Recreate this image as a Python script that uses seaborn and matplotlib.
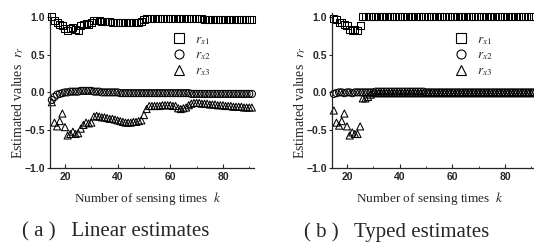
import numpy as np
import pandas as pd
import matplotlib
matplotlib.use("Agg")
import matplotlib.pyplot as plt
from matplotlib.lines import Line2D
import seaborn as sns

# sensing times k = 15 .. 91
k_values = list(range(15, 92))

lin_rx1 = [1.00, 0.95, 0.92, 0.90, 0.88, 0.85, 0.82, 0.84, 0.86, 0.83,
           0.82, 0.88, 0.90, 0.91, 0.90, 0.93, 0.95, 0.95, 0.95, 0.94,
           0.94, 0.94, 0.94, 0.93, 0.93, 0.93, 0.93, 0.92, 0.92, 0.92,
           0.92, 0.93, 0.93, 0.93, 0.94, 0.96, 0.98, 0.98, 0.98, 0.98,
           0.98, 0.98, 0.98, 0.98, 0.98, 0.98, 0.98, 0.98, 0.98, 0.98,
           0.98, 0.98, 0.98, 0.98, 0.98, 0.98, 0.98, 0.98, 0.97, 0.97,
           0.97, 0.97, 0.97, 0.97, 0.97, 0.97, 0.97, 0.97, 0.97, 0.97,
           0.97, 0.97, 0.97, 0.97, 0.97, 0.97, 0.97]
lin_rx2 = [-0.10, -0.06, -0.03, -0.02, -0.01, 0.00, 0.00, 0.01, 0.01, 0.01,
           0.01, 0.02, 0.02, 0.02, 0.02, 0.02, 0.01, 0.01, 0.01, 0.00,
           0.00, 0.00, 0.00, 0.00, 0.00, 0.00, -0.01, -0.01, -0.01, -0.01,
           -0.01, -0.01, -0.01, -0.01, -0.01, -0.01, -0.01, -0.01, -0.01, -0.01,
           -0.01, -0.01, -0.01, -0.01, -0.01, -0.01, -0.01, -0.01, -0.01, -0.01,
           -0.01, -0.01, -0.01, -0.02, -0.02, -0.02, -0.02, -0.02, -0.02, -0.02,
           -0.02, -0.02, -0.02, -0.02, -0.02, -0.02, -0.02, -0.02, -0.02, -0.02,
           -0.02, -0.02, -0.02, -0.02, -0.02, -0.02, -0.02]
lin_rx3 = [-0.13, -0.40, -0.45, -0.38, -0.28, -0.46, -0.57, -0.55, -0.52, -0.55,
           -0.54, -0.48, -0.43, -0.40, -0.41, -0.40, -0.32, -0.31, -0.32, -0.33,
           -0.33, -0.34, -0.35, -0.35, -0.36, -0.37, -0.38, -0.39, -0.40, -0.40,
           -0.40, -0.39, -0.39, -0.38, -0.37, -0.30, -0.22, -0.18, -0.18, -0.18,
           -0.18, -0.18, -0.17, -0.17, -0.17, -0.17, -0.18, -0.18, -0.21, -0.22,
           -0.21, -0.20, -0.17, -0.15, -0.14, -0.14, -0.14, -0.15, -0.15, -0.15,
           -0.16, -0.16, -0.16, -0.17, -0.17, -0.17, -0.18, -0.18, -0.18, -0.19,
           -0.19, -0.19, -0.19, -0.20, -0.20, -0.20, -0.20]

typ_rx1 = [0.98, 0.96, 0.92, 0.93, 0.90, 0.88, 0.83, 0.82, 0.83, 0.82,
           0.88, 1.00, 1.00, 1.00, 1.00, 1.00, 1.00, 1.00, 1.00, 1.00,
           1.00, 1.00, 1.00, 1.00, 1.00, 1.00, 1.00, 1.00, 1.00, 1.00,
           1.00, 1.00, 1.00, 1.00, 1.00, 1.00, 1.00, 1.00, 1.00, 1.00,
           1.00, 1.00, 1.00, 1.00, 1.00, 1.00, 1.00, 1.00, 1.00, 1.00,
           1.00, 1.00, 1.00, 1.00, 1.00, 1.00, 1.00, 1.00, 1.00, 1.00,
           1.00, 1.00, 1.00, 1.00, 1.00, 1.00, 1.00, 1.00, 1.00, 1.00,
           1.00, 1.00, 1.00, 1.00, 1.00, 1.00, 1.00]
typ_rx2 = [-0.02, -0.01, 0.00, 0.00, -0.01, 0.00, 0.00, -0.01, 0.00, 0.00,
           0.00, 0.00, 0.00, 0.00, 0.00, 0.00, 0.01, 0.01, 0.01, 0.01,
           0.01, 0.01, 0.01, 0.01, 0.01, 0.01, 0.01, 0.01, 0.01, 0.01,
           0.01, 0.01, 0.01, 0.01, 0.01, 0.00, 0.00, 0.00, 0.00, 0.00,
           0.00, 0.00, 0.00, 0.00, 0.00, 0.00, 0.00, 0.00, 0.00, 0.00,
           0.00, 0.00, 0.00, 0.00, 0.00, 0.00, 0.00, 0.00, 0.00, 0.00,
           0.00, 0.00, 0.00, 0.00, 0.00, 0.00, 0.00, 0.00, 0.00, 0.00,
           0.00, 0.00, 0.00, 0.00, 0.00, 0.00, 0.00]
typ_rx3 = [-0.24, -0.40, -0.44, -0.38, -0.28, -0.45, -0.57, -0.53, -0.55, -0.55,
           -0.45, -0.08, -0.08, -0.06, -0.03, -0.01, -0.01, -0.01, -0.01, -0.01,
           -0.01, -0.01, -0.01, -0.01, -0.01, -0.01, -0.01, -0.01, -0.01, -0.01,
           -0.01, -0.01, -0.01, -0.01, -0.01, -0.01, -0.01, -0.01, -0.01, -0.01,
           -0.01, -0.01, -0.01, -0.01, -0.01, -0.01, -0.01, -0.01, -0.01, -0.01,
           -0.01, -0.01, -0.01, -0.01, -0.01, -0.01, -0.01, -0.01, -0.01, -0.01,
           -0.01, -0.01, -0.01, -0.01, -0.01, -0.01, -0.01, -0.01, -0.01, -0.01,
           -0.01, -0.01, -0.01, -0.01, -0.01, -0.01, -0.01]

series_names = ["rx1", "rx2", "rx3"]
series_labels = [r"$r_{x1}$", r"$r_{x2}$", r"$r_{x3}$"]
captions = ["( a )   Linear estimates", "( b )   Typed estimates"]
x_ticks = [20, 40, 60, 80]
y_ticks = [-1.0, -0.5, 0.0, 0.5, 1.0]
y_tick_labels = ["\u22121.0", "\u22120.5", "0.0", "0.5", "1.0"]


def make_table(rx1, rx2, rx3):
    parts = []
    for name, vals in zip(series_names, [rx1, rx2, rx3]):
        parts.append(pd.DataFrame({"k": k_values, "value": vals, "series": name}))
    return pd.concat(parts, ignore_index=True)


tables = [make_table(lin_rx1, lin_rx2, lin_rx3),
          make_table(typ_rx1, typ_rx2, typ_rx3)]

sns.set_style("ticks")
plt.rcParams["mathtext.fontset"] = "stix"
plt.rcParams["font.family"] = ["Liberation Sans", "DejaVu Sans"]

marker_map = {"rx1": "s", "rx2": "o", "rx3": "^"}

fig = plt.figure(figsize=(5.34, 2.44), dpi=100)
axes = [fig.add_axes([50 / 534, 1 - 168 / 244, 204 / 534, 155 / 244]),
        fig.add_axes([332 / 534, 1 - 168 / 244, 204 / 534, 155 / 244])]

for ax, table, cap, cap_x in zip(axes, tables, captions, [22 / 534, 304 / 534]):
    sns.scatterplot(data=table, x="k", y="value", style="series",
                    markers=marker_map, facecolors="none", edgecolor="black",
                    linewidth=0.75, s=26, legend=False, ax=ax, clip_on=False)
    ax.set_xlim(14.3, 91.8)
    ax.set_ylim(-1.0, 1.05)
    ax.set_xticks(x_ticks)
    ax.set_xticks([30, 50, 70, 90], minor=True)
    ax.set_yticks(y_ticks)
    ax.set_yticklabels(y_tick_labels)
    ax.tick_params(axis="x", direction="in", length=3, width=0.8,
                   labelsize=7.5, pad=3)
    ax.tick_params(axis="x", which="minor", direction="in", length=1.5, width=0.6)
    ax.tick_params(axis="y", direction="out", length=2.5, width=0.8,
                   labelsize=7.5, pad=1)
    for lbl in ax.get_xticklabels() + ax.get_yticklabels():
        lbl.set_fontweight("bold")
    sns.despine(ax=ax)
    for sp in ["left", "bottom"]:
        ax.spines[sp].set_linewidth(0.9)
    ax.set_xlabel(r"Number of sensing times  $k$", family="Liberation Serif",
                  fontsize=9.5)
    ax.xaxis.set_label_coords(0.48, -0.14)
    ax.set_ylabel(r"Estimated values  $r_{r}$", family="Liberation Serif",
                  fontsize=10)
    ax.yaxis.set_label_coords(-0.12, 0.42)

    handles = [Line2D([], [], linestyle="none", marker=marker_map[n],
                      markerfacecolor="none", markeredgecolor="black",
                      markersize=6.5, markeredgewidth=0.8) for n in series_names]
    ax.legend(handles, series_labels, loc="upper left",
              bbox_to_anchor=(0.57, 0.9), frameon=False, fontsize=9.5,
              handletextpad=0.6, labelspacing=0.2, borderaxespad=0,
              handlelength=1.2)

    fig.text(cap_x, 1 - 232 / 244, cap, family="Liberation Serif",
             fontsize=15, va="center", ha="left")

fig.savefig("out.png", dpi=100)
